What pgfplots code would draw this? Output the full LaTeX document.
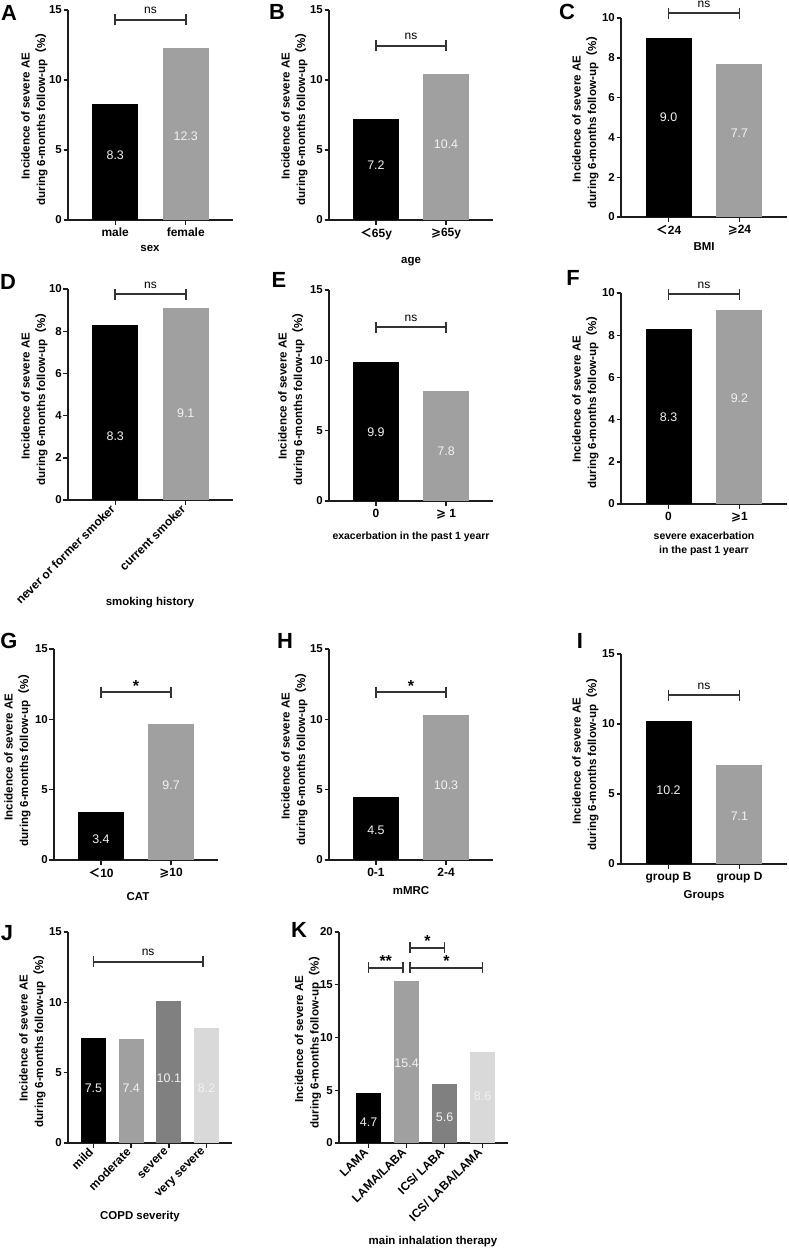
\documentclass[border=0pt]{standalone}
\usepackage{fontspec}
\setmainfont{Liberation Sans}
\newfontfamily\cjk{Noto Sans CJK SC}
\newfontfamily\dvs{DejaVu Sans}
\usepackage{pgfplots}
\pgfplotsset{compat=1.18}
\definecolor{axc}{HTML}{1C1C1C}
\definecolor{g1}{HTML}{A0A0A0}
\definecolor{g2}{HTML}{808080}
\definecolor{g3}{HTML}{D9D9D9}
\definecolor{vtc}{HTML}{F2F2F2}
\newcommand{\fs}[2]{\fontsize{#1}{#2}\selectfont}
\newcommand{\mylt}{{\cjk ＜}}
\newcommand{\myge}{{\dvs\bfseries ⩾}}
\newcommand{\val}[3]{\node[font=\fs{12.5}{14}, text=vtc] at (axis cs:#1,#2) {#3};}
\newcommand{\brk}[5]{%
  \draw[line width=1.5bp, draw=axc!90] ([yshift=5.5bp]axis cs:#1,#3) -- ([yshift=-5.5bp]axis cs:#1,#3);
  \draw[line width=1.5bp, draw=axc!90] (axis cs:#1,#3) -- (axis cs:#2,#3);
  \draw[line width=1.5bp, draw=axc!90] ([yshift=5.5bp]axis cs:#2,#3) -- ([yshift=-5.5bp]axis cs:#2,#3);
  \node[font=\fs{12}{14}, anchor=base, inner sep=0pt] at ([yshift=6bp]axis cs:#4,#3) {#5};}
\newcommand{\sbrk}[5]{%
  \draw[line width=1.5bp, draw=axc!90] ([yshift=5.5bp]axis cs:#1,#3) -- ([yshift=-5.5bp]axis cs:#1,#3);
  \draw[line width=1.5bp, draw=axc!90] (axis cs:#1,#3) -- (axis cs:#2,#3);
  \draw[line width=1.5bp, draw=axc!90] ([yshift=5.5bp]axis cs:#2,#3) -- ([yshift=-5.5bp]axis cs:#2,#3);
  \node[font=\bfseries\fs{16}{16}, anchor=base, inner sep=0pt] at ([yshift=1bp]axis cs:#4,#3) {#5};}
\pgfplotsset{
  panel/.style={
    scale only axis, anchor=south west, clip=false,
    axis x line*=bottom, axis y line*=left,
    axis line style={-, line width=1.5bp, draw=axc},
    tick style={line width=1.4bp, draw=axc},
    major tick length=4.5bp,
    tick align=outside,
    ymin=0,
    tick label style={font=\bfseries\fs{11.5}{13}, text=black},
    yticklabel style={inner xsep=1.5bp},
    /pgf/number format/assume math mode=true,
    xticklabel style={font=\bfseries\fs{12}{14}},
  },
  two/.style={xmin=-0.67, xmax=1.67, xtick={0,1}},
  four/.style={xtick={0,1,2,3}, xticklabel style={rotate=45, anchor=east, font=\bfseries\fs{12}{14}}},
  b/.style={ybar, bar shift=0pt, bar width=46bp, draw=none, fill=#1},
  bn/.style={ybar, bar shift=0pt, bar width=25bp, draw=none, fill=#1},
}
\newcommand{\ylab}[2]{\node[rotate=90, align=center, font=\bfseries\fs{11.6}{15.5}] at (#1bp,-#2bp) {Incidence of severe AE\\during 6-months follow-up{\cjk （}\%{\cjk ）}};}
\newcommand{\plet}[3]{\node[font=\bfseries\fs{22}{22}] at (#1bp,-#2bp) {#3};}
\newcommand{\xtit}[3]{\node[font=\bfseries\fs{11.5}{15}, align=center] at (#1bp,-#2bp) {#3};}
\begin{document}
\begin{tikzpicture}
\path[use as bounding box] (0,0) rectangle (789bp,-1251bp);
% ---------------- A
\begin{axis}[panel, two, at={(68bp,-220bp)}, width=165bp, height=210bp, ymax=15, ytick={0,5,10,15}, xticklabels={male,female}]
\addplot[b=black] coordinates {(0,8.3)};
\addplot[b=g1] coordinates {(1,12.3)};
\val{0}{4.6}{8.3}\val{1}{6.0}{12.3}
\brk{0}{1}{14.3}{0.5}{ns}
\end{axis}
% ---------------- B
\begin{axis}[panel, two, at={(329bp,-220bp)}, width=164bp, height=210bp, ymax=15, ytick={0,5,10,15}, xticklabels={{\mylt65y},{\myge65y}}]
\addplot[b=black] coordinates {(0,7.2)};
\addplot[b=g1] coordinates {(1,10.4)};
\val{0}{3.9}{7.2}\val{1}{5.4}{10.4}
\brk{0}{1}{12.43}{0.5}{ns}
\end{axis}
% ---------------- C
\begin{axis}[panel, two, at={(621bp,-217bp)}, width=166bp, height=199bp, ymax=10, ytick={0,2,4,6,8,10}, xticklabels={{\mylt24},{\myge24}}]
\addplot[b=black] coordinates {(0,9.0)};
\addplot[b=g1] coordinates {(1,7.7)};
\val{0}{5.0}{9.0}\val{1}{4.2}{7.7}
\brk{0}{1}{10.25}{0.5}{ns}
\end{axis}
% ---------------- D
\begin{axis}[panel, two, at={(68bp,-500bp)}, width=165bp, height=211bp, ymax=10, ytick={0,2,4,6,8,10}, xticklabels={never or former smoker,current smoker}, xticklabel style={rotate=45, anchor=east}]
\addplot[b=black] coordinates {(0,8.3)};
\addplot[b=g1] coordinates {(1,9.1)};
\val{0}{3.0}{8.3}\val{1}{4.1}{9.1}
\brk{0}{1}{9.76}{0.5}{ns}
\end{axis}
% ---------------- E
\begin{axis}[panel, two, at={(329bp,-501bp)}, width=164bp, height=211bp, ymax=15, ytick={0,5,10,15}, xticklabels={0,{\myge\ 1}}]
\addplot[b=black] coordinates {(0,9.9)};
\addplot[b=g1] coordinates {(1,7.8)};
\val{0}{4.9}{9.9}\val{1}{3.55}{7.8}
\brk{0}{1}{12.37}{0.5}{ns}
\end{axis}
% ---------------- F
\begin{axis}[panel, two, at={(621bp,-504bp)}, width=166bp, height=211bp, ymax=10, ytick={0,2,4,6,8,10}, xticklabels={0,{\myge1}}]
\addplot[b=black] coordinates {(0,8.3)};
\addplot[b=g1] coordinates {(1,9.2)};
\val{0}{4.1}{8.3}\val{1}{5.0}{9.2}
\brk{0}{1}{9.95}{0.5}{ns}
\end{axis}
% ---------------- G
\begin{axis}[panel, two, at={(54bp,-860bp)}, width=164bp, height=211bp, ymax=15, ytick={0,5,10,15}, xticklabels={{\mylt10},{\myge10}}]
\addplot[b=black] coordinates {(0,3.4)};
\addplot[b=g1] coordinates {(1,9.7)};
\val{0}{1.5}{3.4}\val{1}{5.3}{9.7}
\sbrk{0}{1}{11.94}{0.5}{*}
\end{axis}
% ---------------- H
\begin{axis}[panel, two, at={(329bp,-860bp)}, width=164bp, height=211bp, ymax=15, ytick={0,5,10,15}, xticklabels={0-1,2-4}]
\addplot[b=black] coordinates {(0,4.5)};
\addplot[b=g1] coordinates {(1,10.3)};
\val{0}{2.1}{4.5}\val{1}{5.3}{10.3}
\sbrk{0}{1}{11.94}{0.5}{*}
\end{axis}
% ---------------- I
\begin{axis}[panel, two, at={(621bp,-864bp)}, width=166bp, height=210bp, ymax=15, ytick={0,5,10,15}, xticklabels={group B,group D}]
\addplot[b=black] coordinates {(0,10.2)};
\addplot[b=g1] coordinates {(1,7.1)};
\val{0}{5.3}{10.2}\val{1}{3.4}{7.1}
\brk{0}{1}{12.07}{0.5}{ns}
\end{axis}
% ---------------- J
\begin{axis}[panel, four, at={(68bp,-1143bp)}, width=164bp, height=211bp, xmin=-0.676, xmax=3.676, ymax=15, ytick={0,5,10,15}, xticklabels={mild,moderate,severe,very severe}]
\addplot[bn=black] coordinates {(0,7.5)};
\addplot[bn=g1] coordinates {(1,7.4)};
\addplot[bn=g2] coordinates {(2,10.1)};
\addplot[bn=g3] coordinates {(3,8.2)};
\val{0}{3.9}{7.5}\val{1}{3.9}{7.4}\val{2}{4.6}{10.1}\val{3}{3.9}{8.2}
\brk{0}{2.9}{12.87}{1.45}{ns}
\end{axis}
% ---------------- K
\begin{axis}[panel, four, at={(339bp,-1143bp)}, width=169bp, height=211bp, xmin=-0.78, xmax=3.67, ymax=20, ytick={0,5,10,15,20}, xticklabels={LAMA,LAMA/LABA,ICS/ LABA,ICS/ LABA/LAMA}]
\addplot[bn=black] coordinates {(0,4.7)};
\addplot[bn=g1] coordinates {(1,15.4)};
\addplot[bn=g2] coordinates {(2,5.6)};
\addplot[bn=g3] coordinates {(3,8.6)};
\val{0}{2.0}{4.7}\val{1}{7.6}{15.4}\val{2}{2.4}{5.6}\val{3}{4.4}{8.6}
\sbrk{0}{0.91}{16.6}{0.45}{**}
\sbrk{1.09}{2}{18.5}{1.55}{*}
\sbrk{1.09}{3}{16.6}{2.05}{*}
\end{axis}
% ---------------- labels
\ylab{34.5}{116}\ylab{294.5}{116}\ylab{585.5}{119}
\ylab{34.5}{396}\ylab{291.5}{396}\ylab{585.5}{399}
\ylab{17.5}{757}\ylab{294.5}{756}\ylab{585.5}{761}
\ylab{32.5}{1038}\ylab{308}{1039}
\plet{9}{12.5}{A}\plet{277}{12}{B}\plet{567}{12}{C}
\plet{8}{282}{D}\plet{279}{280}{E}\plet{573}{278}{F}
\plet{9}{641}{G}\plet{285}{641}{H}\plet{580}{641}{I}
\plet{7}{933}{J}\plet{299}{930}{K}
\xtit{150}{248}{sex}
\xtit{411}{262}{age}
\xtit{704}{247}{BMI}
\xtit{150}{603}{smoking history}
\node[font=\bfseries\fs{10.5}{13}] at (411bp,-537bp) {exacerbation in the past 1 yearr};
\node[font=\bfseries\fs{10.5}{14}, align=center] at (704bp,-544bp) {severe exacerbation\\in the past 1 yearr};
\xtit{138}{897}{CAT}
\xtit{411}{891}{mMRC}
\xtit{704}{896}{Groups}
\xtit{140}{1217}{COPD severity}
\xtit{433}{1242}{main inhalation therapy}
\end{tikzpicture}
\end{document}
